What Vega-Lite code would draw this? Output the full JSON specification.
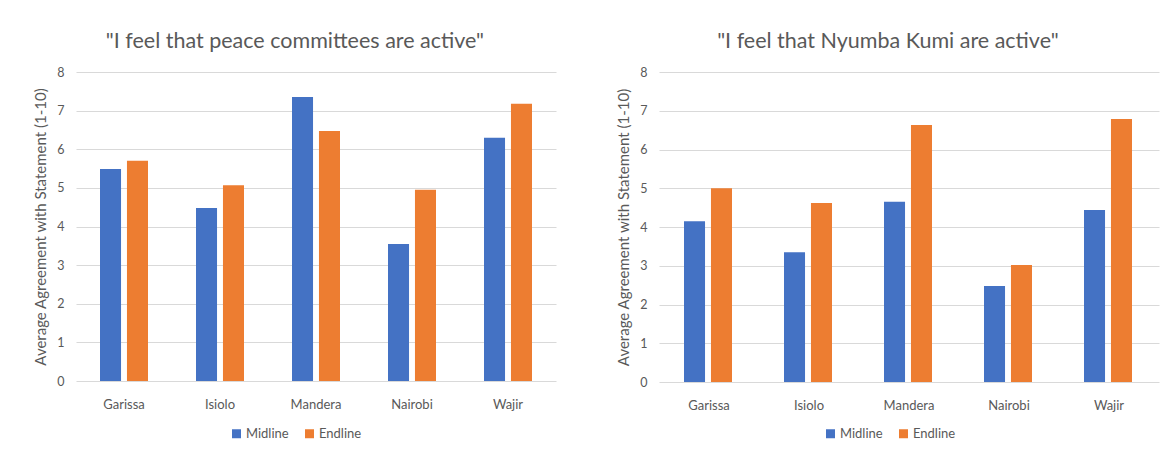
{
  "$schema": "https://vega.github.io/schema/vega-lite/v6.json",
  "background": "white",
  "padding": {"left": 33, "top": 30, "right": 5, "bottom": 5},
  "datasets": {
    "peace": [
      {"county": "Garissa", "round": "Midline", "score": 5.49},
      {"county": "Garissa", "round": "Endline", "score": 5.70},
      {"county": "Isiolo", "round": "Midline", "score": 4.48},
      {"county": "Isiolo", "round": "Endline", "score": 5.07},
      {"county": "Mandera", "round": "Midline", "score": 7.35},
      {"county": "Mandera", "round": "Endline", "score": 6.47},
      {"county": "Nairobi", "round": "Midline", "score": 3.55},
      {"county": "Nairobi", "round": "Endline", "score": 4.95},
      {"county": "Wajir", "round": "Midline", "score": 6.30},
      {"county": "Wajir", "round": "Endline", "score": 7.18}
    ],
    "nyumba": [
      {"county": "Garissa", "round": "Midline", "score": 4.15},
      {"county": "Garissa", "round": "Endline", "score": 5.00},
      {"county": "Isiolo", "round": "Midline", "score": 3.35},
      {"county": "Isiolo", "round": "Endline", "score": 4.62},
      {"county": "Mandera", "round": "Midline", "score": 4.65},
      {"county": "Mandera", "round": "Endline", "score": 6.63},
      {"county": "Nairobi", "round": "Midline", "score": 2.48},
      {"county": "Nairobi", "round": "Endline", "score": 3.02},
      {"county": "Wajir", "round": "Midline", "score": 4.44},
      {"county": "Wajir", "round": "Endline", "score": 6.79}
    ]
  },
  "config": {
    "font": "Lato",
    "view": {"stroke": null},
    "title": {"font": "Lato", "fontSize": 21.5, "fontWeight": "normal", "color": "#595959", "anchor": "middle", "frame": "bounds", "offset": 14},
    "axis": {"labelFont": "Lato", "labelColor": "#595959", "labelFontSize": 12.5, "titleFont": "Lato", "titleColor": "#595959", "titleFontWeight": "normal", "titleFontSize": 15},
    "legend": {"labelFont": "Lato", "labelColor": "#595959", "labelFontSize": 13, "symbolType": "square", "symbolSize": 81, "symbolStrokeWidth": 0, "columnPadding": 14, "labelOffset": 3}
  },
  "spacing": 60,
  "resolve": {"legend": {"color": "independent"}},
  "hconcat": [
    {
      "data": {"name": "peace"},
      "title": "\"I feel that peace committees are active\"",
      "width": 480,
      "height": 309,
      "mark": {"type": "bar"},
      "encoding": {
        "x": {"field": "county", "type": "nominal", "sort": ["Garissa", "Isiolo", "Mandera", "Nairobi", "Wajir"],
              "scale": {"paddingInner": 0.5, "paddingOuter": 0.25},
              "axis": {"title": null, "labelAngle": 0, "domain": false, "ticks": false, "labelPadding": 17, "labelFontSize": 13}},
        "xOffset": {"field": "round", "type": "nominal", "sort": ["Midline", "Endline"], "scale": {"paddingInner": 0.22, "paddingOuter": 0}},
        "y": {"field": "score", "type": "quantitative", "scale": {"domain": [0, 8], "nice": false},
              "axis": {"title": "Average Agreement with Statement (1-10)", "values": [0, 1, 2, 3, 4, 5, 6, 7, 8], "domain": false, "ticks": false, "gridColor": "#d9d9d9", "labelPadding": 12, "titlePadding": 8}},
        "color": {"field": "round", "type": "nominal",
                  "scale": {"domain": ["Midline", "Endline"], "range": ["#4472C4", "#ED7D31"]},
                  "legend": {"title": null, "orient": "none", "direction": "horizontal", "legendX": 154, "legendY": 355}}
      }
    },
    {
      "data": {"name": "nyumba"},
      "title": "\"I feel that Nyumba Kumi are active\"",
      "width": 500,
      "height": 310,
      "mark": {"type": "bar"},
      "encoding": {
        "x": {"field": "county", "type": "nominal", "sort": ["Garissa", "Isiolo", "Mandera", "Nairobi", "Wajir"],
              "scale": {"paddingInner": 0.5, "paddingOuter": 0.25},
              "axis": {"title": null, "labelAngle": 0, "domain": false, "ticks": false, "labelPadding": 17, "labelFontSize": 13}},
        "xOffset": {"field": "round", "type": "nominal", "sort": ["Midline", "Endline"], "scale": {"paddingInner": 0.22, "paddingOuter": 0}},
        "y": {"field": "score", "type": "quantitative", "scale": {"domain": [0, 8], "nice": false},
              "axis": {"title": "Average Agreement with Statement (1-10)", "values": [0, 1, 2, 3, 4, 5, 6, 7, 8], "domain": false, "ticks": false, "gridColor": "#d9d9d9", "labelPadding": 12, "titlePadding": 8}},
        "color": {"field": "round", "type": "nominal",
                  "scale": {"domain": ["Midline", "Endline"], "range": ["#4472C4", "#ED7D31"]},
                  "legend": {"title": null, "orient": "none", "direction": "horizontal", "legendX": 165, "legendY": 355}}
      }
    }
  ]
}
